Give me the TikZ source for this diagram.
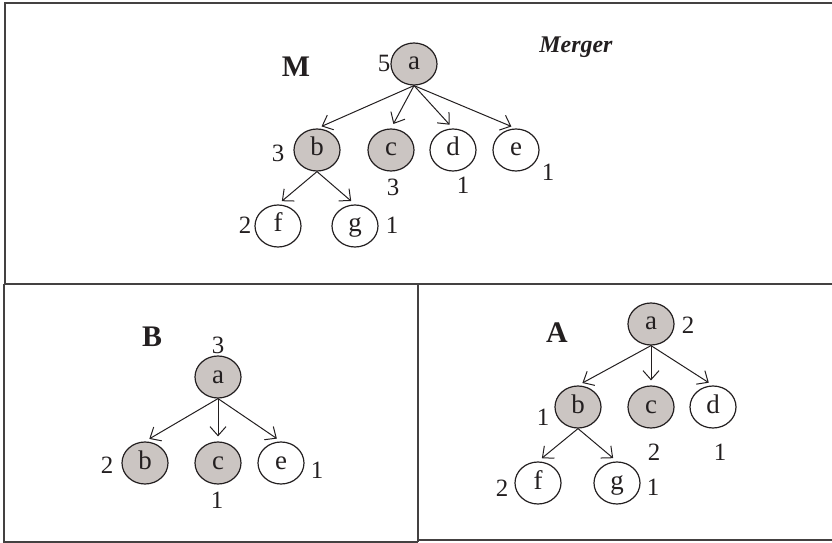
\documentclass[tikz,border=0pt]{standalone}
\usepackage{fontspec}
\setmainfont{Liberation Serif}
\usetikzlibrary{arrows.meta,shapes.geometric}
\definecolor{shade}{RGB}{203,197,194}
\definecolor{ink}{RGB}{35,31,32}
\begin{document}
\begin{tikzpicture}[x=1bp,y=-1bp,
  vert/.style={ellipse,draw=ink,line width=1.2bp,minimum width=46bp,minimum height=42bp,
    inner sep=0pt,text height=12bp,text depth=0pt,font=\fontsize{27}{27}\selectfont,text=ink},
  hit/.style={vert,fill=shade},
  plain/.style={vert,fill=white},
  num/.style={font=\fontsize{25}{25}\selectfont,text=ink,inner sep=0pt},
  title/.style={font=\bfseries\fontsize{30}{30}\selectfont,text=ink,inner sep=0pt},
  arr/.style={draw=ink,line width=1bp,shorten >=5bp,-{Straight Barb[length=9bp,width=16bp]}},
  frame/.style={draw=ink!85,line width=2bp}]
\useasboundingbox (0,0) rectangle (832,543);

% panel frames
\draw[frame] (832,3) -- (5,3) -- (5,284);
\draw[frame] (4,284) -- (832,284);
\draw[frame] (4,284) -- (4,542) -- (418,542);
\draw[frame] (418,284) -- (418,542);
\draw[frame] (418,540) -- (832,540);

% merged tree M
\node[title] (tM) at (296,67) {M};
\node[font=\bfseries\itshape\fontsize{24}{24}\selectfont,text=ink,inner sep=0pt] (tMerger) at (576,47) {Merger};
\node[hit] (Ma) at (414,64) {a};
\node[hit] (Mb) at (317,150) {b};
\node[hit] (Mc) at (391,150) {c};
\node[plain] (Md) at (453,150) {d};
\node[plain] (Me) at (516,150) {e};
\node[plain] (Mf) at (278,226) {f};
\node[plain] (Mg) at (355,226) {g};
\node[num] (nMa) at (384,63) {5};
\node[num] (nMb) at (278,153) {3};
\node[num] (nMc) at (393,187) {3};
\node[num] (nMd) at (463,185) {1};
\node[num] (nMe) at (548,172) {1};
\node[num] (nMf) at (245,225) {2};
\node[num] (nMg) at (392,225) {1};
\foreach \c in {Mb,Mc,Md,Me} \draw[arr] (Ma.south) -- (\c.north);
\foreach \c in {Mf,Mg} \draw[arr] (Mb.south) -- (\c.north);

% tree B
\node[title] (tB) at (152,337) {B};
\node[hit] (Ba) at (218,377) {a};
\node[hit] (Bb) at (145,463) {b};
\node[hit] (Bc) at (218,463) {c};
\node[plain] (Be) at (281,463) {e};
\node[num] (nBa) at (218,345) {3};
\node[num] (nBb) at (107,465) {2};
\node[num] (nBc) at (217,500) {1};
\node[num] (nBe) at (317,470) {1};
\foreach \c in {Bb,Bc,Be} \draw[arr] (Ba.south) -- (\c.north);

% tree A
\node[title] (tA) at (557,333) {A};
\node[hit] (Aa) at (651,324) {a};
\node[hit] (Ab) at (578,407) {b};
\node[hit] (Ac) at (651,407) {c};
\node[plain] (Ad) at (713,407) {d};
\node[plain] (Af) at (538,483) {f};
\node[plain] (Ag) at (617,483) {g};
\node[num] (nAa) at (688,325) {2};
\node[num] (nAb) at (543,417) {1};
\node[num] (nAc) at (654,452) {2};
\node[num] (nAd) at (720,452) {1};
\node[num] (nAf) at (502,488) {2};
\node[num] (nAg) at (653,487) {1};
\foreach \c in {Ab,Ac,Ad} \draw[arr] (Aa.south) -- (\c.north);
\foreach \c in {Af,Ag} \draw[arr] (Ab.south) -- (\c.north);
\end{tikzpicture}
\end{document}
